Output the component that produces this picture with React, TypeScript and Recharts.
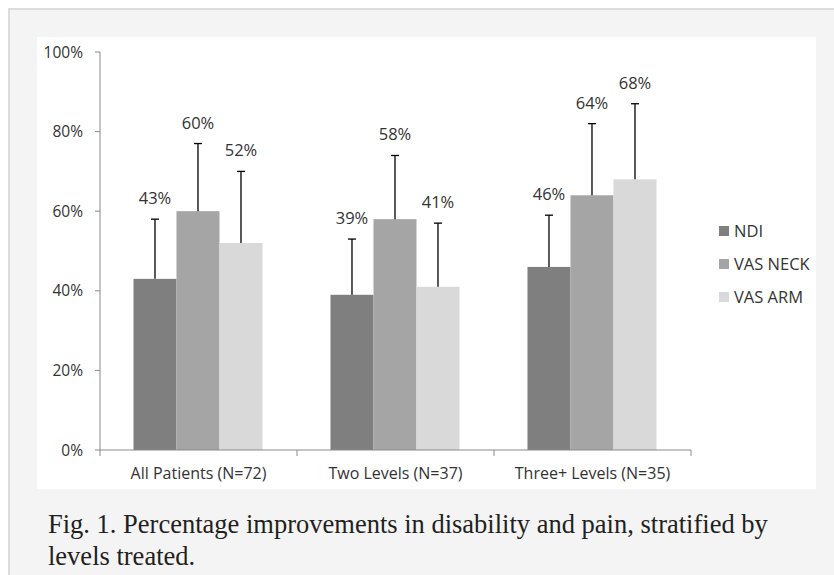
import React from "react";
import { BarChart, Bar, XAxis, YAxis, Legend } from "recharts";

const categories = ["All Patients (N=72)", "Two Levels (N=37)", "Three+ Levels (N=35)"];
const seriesNames = ["NDI", "VAS NECK", "VAS ARM"];
const seriesColors = ["#7f7f7f", "#a5a5a5", "#d9d9d9"];
const ndi = [43, 39, 46];
const ndiErr = [15, 14, 13];
const vasNeck = [60, 58, 64];
const vasNeckErr = [17, 16, 18];
const vasArm = [52, 41, 68];
const vasArmErr = [18, 16, 19];
const yTicks = [0, 20, 40, 60, 80, 100];

const data = categories.map((name, i) => ({
  name,
  ndi: ndi[i],
  ndiErr: ndiErr[i],
  vasNeck: vasNeck[i],
  vasNeckErr: vasNeckErr[i],
  vasArm: vasArm[i],
  vasArmErr: vasArmErr[i],
}));

const axisColor = "#8a8a8a";
const textColor = "#333";

// bar + upper error whisker + value label above the whisker
const barWithError = (errKey: string) => (props: any) => {
  const { x, y, width, height, fill, value, payload } = props;
  const err = payload[errKey];
  const ppu = value ? height / value : 0;
  const top = y - err * ppu;
  const cx = x + width / 2;
  return (
    <g>
      <rect x={x} y={y} width={width} height={height} fill={fill} />
      <line x1={cx} y1={y} x2={cx} y2={top} stroke="#000" strokeWidth={1.3} />
      <line x1={cx - 4} y1={top} x2={cx + 4} y2={top} stroke="#000" strokeWidth={1.3} />
      <text x={cx} y={top - 15} textAnchor="middle" fontSize={16.5} fill={textColor}>
        {value}%
      </text>
    </g>
  );
};

const CategoryTick = (props: any) => {
  const { x, y, payload, index } = props;
  const half = payload.offset ?? 98.5;
  return (
    <g>
      <line x1={x - half} y1={y - 6} x2={x - half} y2={y} stroke={axisColor} />
      {index === categories.length - 1 && (
        <line x1={x + half} y1={y - 6} x2={x + half} y2={y} stroke={axisColor} />
      )}
      <text x={x} y={y + 23} textAnchor="middle" fontSize={16} fill={textColor}>
        {payload.value}
      </text>
    </g>
  );
};

const renderLegend = () => (
  <div>
    {seriesNames.map((name, i) => (
      <div
        key={name}
        style={{ height: 33, display: "flex", alignItems: "center", fontSize: 16.5, color: textColor }}
      >
        <span style={{ width: 10, height: 10, background: seriesColors[i], marginRight: 5 }} />
        {name}
      </div>
    ))}
  </div>
);

export default function App() {
  return (
    <div
      style={{
        position: "absolute",
        left: 8,
        top: 8,
        width: 826,
        height: 567,
        boxSizing: "border-box",
        background: "#f4f4f4",
        borderTop: "2px solid #dcdcdc",
        borderLeft: "2px solid #dcdcdc",
      }}
    >
      <div
        style={{
          position: "absolute",
          left: 27,
          top: 27,
          width: 779,
          height: 452,
          background: "#fff",
          fontFamily: "'Open Sans', sans-serif",
        }}
      >
        <BarChart
          width={779}
          height={452}
          data={data}
          margin={{ top: 15, right: 125, bottom: 0, left: 0 }}
          barGap={0}
          barCategoryGap="17%"
        >
          <XAxis
            dataKey="name"
            height={39}
            axisLine={{ stroke: axisColor }}
            tickLine={false}
            tickSize={6}
            tickMargin={0}
            interval={0}
            tick={<CategoryTick />}
          />
          <YAxis
            width={63}
            domain={[0, 100]}
            ticks={yTicks}
            tickFormatter={(v) => `${v}%`}
            axisLine={{ stroke: axisColor }}
            tickLine={{ stroke: axisColor }}
            tickSize={5}
            tickMargin={12}
            tick={{ fill: textColor, fontSize: 15.5 }}
          />
          <Legend
            layout="horizontal"
            align="center"
            verticalAlign="middle"
            wrapperStyle={{ left: 682, top: 177, width: 100 }}
            content={renderLegend}
          />
          <Bar dataKey="ndi" name={seriesNames[0]} fill={seriesColors[0]} isAnimationActive={false} shape={barWithError("ndiErr")} />
          <Bar dataKey="vasNeck" name={seriesNames[1]} fill={seriesColors[1]} isAnimationActive={false} shape={barWithError("vasNeckErr")} />
          <Bar dataKey="vasArm" name={seriesNames[2]} fill={seriesColors[2]} isAnimationActive={false} shape={barWithError("vasArmErr")} />
        </BarChart>
      </div>
      <div
        style={{
          position: "absolute",
          left: 38,
          top: 498,
          fontFamily: "'Liberation Serif', serif",
          fontSize: 26.5,
          lineHeight: "32px",
          color: "#231f20",
          whiteSpace: "nowrap",
        }}
      >
        Fig. 1. Percentage improvements in disability and pain, stratified by
        <br />
        levels treated.
      </div>
    </div>
  );
}
